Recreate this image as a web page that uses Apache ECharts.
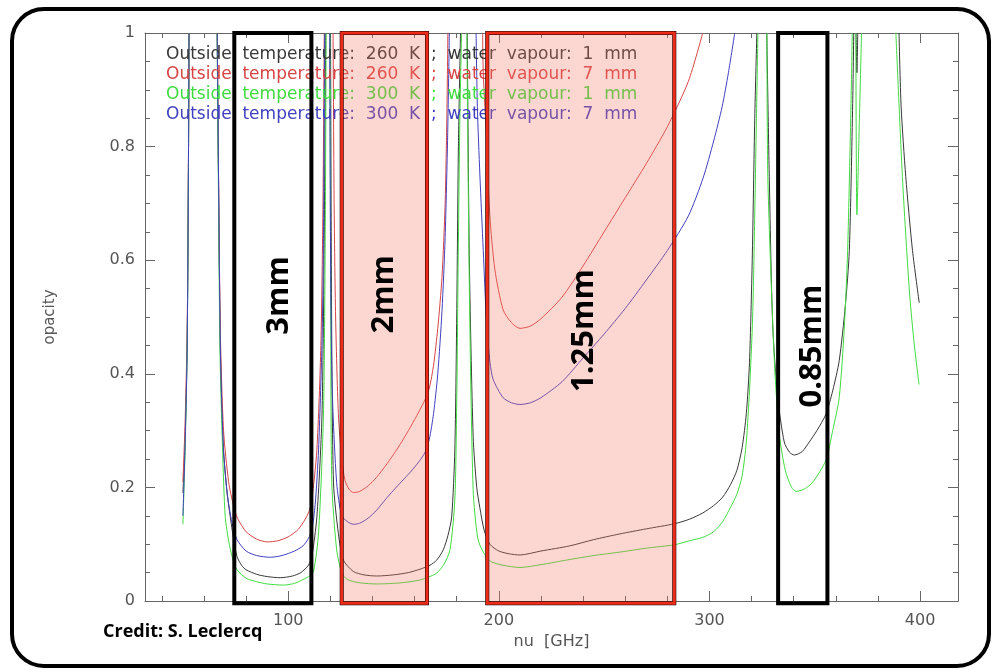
<!DOCTYPE html>
<html>
<head>
<meta charset="utf-8">
<script src="https://cdn.jsdelivr.net/npm/echarts@6.0.0/dist/echarts.min.js"></script>
<style>
html, body { margin: 0; padding: 0; background: #fff; }
#chart { width: 997px; height: 672px; }
</style>
</head>
<body>
<div id="chart"></div>
<script>
// legend texts, one per curve
const seriesNames = [
  'Outside  temperature:  260  K  ;  water  vapour:  1  mm',
  'Outside  temperature:  260  K  ;  water  vapour:  7  mm',
  'Outside  temperature:  300  K  ;  water  vapour:  1  mm',
  'Outside  temperature:  300  K  ;  water  vapour:  7  mm'
];

// [frequency GHz, opacity], null = curve leaves the plot (above 1)
const curve260k1mm = [
  [50,0.19],[51,0.28],[52,0.45],[52.6,0.75],[52.9,1.0], null,
  [66.3,1.0],[66.8,0.79],[67.8,0.44],[69.2,0.27],[71,0.19],[72.5,0.148],[74,0.11],[75.7,0.078],[78,0.062],[80,0.055],[85,0.047],[90,0.043],[96.2,0.041],[102,0.044],[106,0.05],[109.6,0.063],[111.2,0.078],[113.6,0.148],[116,0.324],[117,0.6],[117.8,1.0], null,
  [120.1,1.0],[120.6,0.5],[121.5,0.208],[123.8,0.119],[126.2,0.072],[130.9,0.052],[136,0.046],[142,0.044],[150,0.046],[157,0.05],[162.6,0.056],[167.3,0.063],[170.5,0.072],[173.6,0.09],[175.8,0.115],[177.6,0.148],[179.1,0.266],[180,0.5],[180.8,0.8],[181.8,1.0], null,
  [185,1.0],[186,0.6],[187.8,0.29],[189.5,0.2],[191,0.164],[193,0.125],[195.7,0.1],[200,0.088],[205,0.083],[210,0.081],[220,0.088],[233.6,0.097],[245,0.108],[257.3,0.118],[270,0.127],[283.4,0.136],[290.5,0.144],[296.8,0.155],[302,0.168],[306.3,0.183],[310,0.205],[313,0.23],[315.5,0.27],[317.5,0.33],[319,0.42],[320.3,0.6],[321.5,0.85],[322.5,1.0], null,
  [327.2,1.0],[328.4,0.747],[330,0.488],[332.4,0.358],[335.5,0.28],[338,0.262],[340.3,0.257],[344,0.263],[347.4,0.28],[351,0.3],[355.3,0.329],[358.5,0.37],[361.6,0.423],[364.5,0.52],[366.4,0.617],[368,0.876],[368.5,1.0], null,
  [369.6,1.0],[370,0.93],[370.4,1.0], null,
  [390,1.0],[391,0.87],[393.2,0.747],[396.4,0.617],[399.6,0.525]
];
const curve260k7mm = [
  [50,0.21],[51,0.31],[52,0.47],[52.6,0.75],[52.9,1.0], null,
  [66.3,1.0],[66.8,0.79],[67.8,0.47],[69.3,0.3],[71.7,0.21],[74,0.168],[76,0.145],[80,0.122],[85,0.109],[90,0.104],[95,0.106],[100,0.113],[105,0.127],[109.6,0.155],[111.2,0.178],[113.6,0.266],[115.5,0.45],[116.5,0.7],[117.1,1.0], null,
  [121.3,1.0],[121.8,0.7],[122.5,0.5],[123.8,0.33],[125.4,0.25],[127,0.212],[129,0.196],[131,0.191],[134,0.193],[138,0.203],[142,0.218],[146,0.237],[150,0.258],[154,0.281],[158,0.306],[162,0.333],[165,0.355],[167,0.375],[169,0.415],[171,0.48],[173,0.57],[174.5,0.7],[175.3,0.85],[175.8,1.0], null,
  [192.3,1.0],[192.6,0.93],[194.2,0.81],[195.7,0.68],[198.1,0.584],[202,0.513],[206,0.49],[210,0.48],[215,0.484],[220,0.497],[230,0.535],[240,0.59],[250,0.65],[260,0.71],[270,0.77],[280,0.835],[290,0.915],[296.8,1.0]
];
const curve300k1mm = [
  [50,0.135],[51,0.26],[52,0.44],[52.6,0.75],[52.9,1.0], null,
  [66.2,1.0],[66.7,0.79],[67.6,0.44],[68.8,0.27],[70.1,0.148],[72,0.1],[74,0.07],[75.7,0.055],[80,0.04],[85,0.034],[90,0.03],[97.8,0.028],[103,0.031],[106,0.036],[109.6,0.043],[112,0.052],[114.4,0.12],[116.7,0.324],[117.5,0.6],[118,1.0], null,
  [119.8,1.0],[120.2,0.5],[120.7,0.208],[123,0.09],[125.4,0.05],[128,0.038],[134,0.032],[142,0.03],[150,0.031],[156,0.033],[162.6,0.037],[166.5,0.042],[170.5,0.049],[174,0.065],[176.8,0.09],[179.1,0.178],[180,0.35],[180.7,0.6],[181.5,0.85],[182.3,1.0], null,
  [184.8,1.0],[186,0.55],[187.8,0.196],[190,0.11],[192.6,0.086],[196,0.07],[202,0.063],[210,0.059],[220,0.064],[233.6,0.073],[245,0.08],[257.3,0.086],[270,0.093],[283.4,0.099],[290.5,0.106],[296.8,0.112],[302,0.122],[306.3,0.14],[310,0.165],[313,0.188],[315.5,0.22],[317.5,0.28],[319,0.37],[320.5,0.5],[321.5,0.68],[322.3,0.85],[323,1.0], null,
  [327.3,1.0],[327.7,0.747],[330.8,0.423],[333.2,0.293],[336,0.23],[339,0.2],[341.1,0.193],[345,0.197],[349,0.209],[355.3,0.248],[358.5,0.3],[361.6,0.358],[364,0.48],[365.6,0.617],[367.2,0.876],[367.8,1.0], null,
  [369.5,1.0],[370,0.68],[371.2,0.85],[372.2,1.0], null,
  [388.5,1.0],[391.6,0.747],[394.8,0.552],[397,0.46],[399.5,0.381]
];
const curve300k7mm = [
  [50,0.15],[51,0.27],[52,0.44],[52.6,0.75],[52.9,1.0], null,
  [66.3,1.0],[66.8,0.79],[67.8,0.44],[69.2,0.27],[71,0.19],[73.3,0.138],[75.7,0.108],[80,0.088],[85,0.08],[91.5,0.077],[97,0.08],[103,0.088],[107,0.097],[109.6,0.11],[111.2,0.125],[112.8,0.17],[114.4,0.266],[116,0.45],[116.7,0.618],[117.3,1.0], null,
  [119.7,1.0],[120.2,0.55],[121,0.36],[123,0.208],[125.4,0.15],[128,0.14],[131,0.135],[134,0.137],[138,0.146],[142,0.16],[146,0.178],[150,0.195],[154,0.211],[158,0.227],[162,0.245],[165,0.262],[167,0.285],[169,0.33],[171,0.4],[173,0.51],[174.5,0.64],[175.7,0.82],[176.5,1.0], null,
  [189.2,1.0],[189.8,0.87],[191,0.75],[192.6,0.617],[194.2,0.488],[195.8,0.42],[197.3,0.39],[202,0.358],[206,0.349],[210,0.346],[215,0.349],[220,0.358],[230,0.386],[240,0.428],[250,0.47],[260,0.515],[270,0.565],[280,0.617],[290,0.678],[297,0.745],[302,0.81],[306,0.87],[309,0.93],[312,1.0]
];

// atmospheric windows (GHz) and where their names sit
const bandNames = ['3mm', '2mm', '1.25mm', '0.85mm'];
const bandStart = [74.4, 125.4, 194.5, 332.6];
const bandEnd = [111.0, 165.9, 283.3, 356.0];
const bandLabelFreq = [95.7, 145.5, 240.3, 348.8];
const bandLabelOpacity = [0.538, 0.54, 0.476, 0.449];

// axis ticks
const xMajorTicks = [100, 200, 300, 400];
const xMinorTicks = [40, 60, 80, 120, 140, 160, 180, 220, 240, 260, 280, 320, 340, 360, 380];

const lineColors = ['#383838', '#d84444', '#3fdc3f', '#4040c0'];
const filledBands = { '2mm': true, '1.25mm': true };

function toSeriesData(points) {
  let out = [];
  let lastX = 0;
  points.forEach(function (p) {
    if (p === null) {
      out.push([lastX, null]);
    } else {
      out.push(p);
      lastX = p[0];
    }
  });
  return out;
}

const chart = echarts.init(document.getElementById('chart'));

const axisGray = '#666';
const textGray = '#555';
const tickFont = 'DejaVu Sans';

function xAxisPart(position, ticks, len, withLine, withLabel) {
  return {
    type: 'value',
    position: position,
    min: 32,
    max: 418,
    axisLine: { show: withLine, onZero: false, lineStyle: { color: axisGray, width: 1 } },
    axisTick: { show: true, inside: true, length: len, customValues: ticks, lineStyle: { color: axisGray } },
    axisLabel: withLabel ? { show: true, customValues: xMajorTicks, color: textGray, fontSize: 16, fontFamily: tickFont, margin: 12 } : { show: false },
    splitLine: { show: false }
  };
}

let xAxes = [
  xAxisPart('bottom', xMajorTicks, 10, true, true),
  xAxisPart('bottom', xMinorTicks, 5, false, false),
  xAxisPart('top', xMajorTicks, 10, true, false),
  xAxisPart('top', xMinorTicks, 5, false, false)
];
xAxes[0].name = 'nu  [GHz]';
xAxes[0].nameLocation = 'middle';
xAxes[0].nameGap = 31;
xAxes[0].nameTextStyle = { color: textGray, fontSize: 16, fontFamily: tickFont };

function yAxisPart(position, withLabel) {
  return {
    type: 'value',
    position: position,
    min: 0,
    max: 1,
    interval: 0.2,
    axisLine: { show: true, onZero: false, lineStyle: { color: axisGray, width: 1 } },
    axisTick: { show: true, inside: true, length: 10, lineStyle: { color: axisGray } },
    minorTick: { show: true, splitNumber: 4, length: 5, lineStyle: { color: axisGray } },
    axisLabel: withLabel ? { show: true, color: textGray, fontSize: 16, fontFamily: tickFont, margin: 10 } : { show: false },
    splitLine: { show: false },
    minorSplitLine: { show: false }
  };
}

let yAxes = [yAxisPart('left', true), yAxisPart('right', false)];
yAxes[0].name = 'opacity';
yAxes[0].nameLocation = 'middle';
yAxes[0].nameGap = 87;
yAxes[0].nameTextStyle = { color: textGray, fontSize: 15, fontFamily: tickFont };

const curves = [curve260k1mm, curve260k7mm, curve300k1mm, curve300k7mm];

let series = curves.map(function (c, i) {
  return {
    name: seriesNames[i],
    type: 'line',
    xAxisIndex: 0,
    yAxisIndex: 0,
    data: toSeriesData(c),
    showSymbol: false,
    smooth: 0.25,
    connectNulls: false,
    clip: true,
    z: 2,
    lineStyle: { color: lineColors[i], width: 1 },
    itemStyle: { color: lineColors[i] }
  };
});

// window boxes drawn over the curves
series.push({
  type: 'custom',
  xAxisIndex: 0,
  yAxisIndex: 0,
  z: 10,
  clip: false,
  silent: true,
  encode: { x: [0, 1, 2], y: 3 },
  data: bandStart.map(function (s, i) {
    return [s, bandEnd[i], bandLabelFreq[i], bandLabelOpacity[i]];
  }),
  renderItem: function (params, api) {
    const name = bandNames[params.dataIndex];
    const p0 = api.coord([api.value(0), 1]);
    const p1 = api.coord([api.value(1), -0.004]);
    const lp = api.coord([api.value(2), api.value(3)]);
    const w = p1[0] - p0[0];
    const h = p1[1] - p0[1];
    const filled = !!filledBands[name];
    let children = [];
    if (filled) {
      children.push({
        type: 'rect',
        shape: { x: p0[0], y: p0[1], width: w, height: h },
        style: { fill: 'rgba(245,122,105,0.3)', stroke: null }
      });
      children.push({
        type: 'rect',
        shape: { x: p0[0], y: p0[1], width: w, height: h },
        style: { fill: null, stroke: '#000', lineWidth: 4 }
      });
      children.push({
        type: 'rect',
        shape: { x: p0[0], y: p0[1], width: w, height: h },
        style: { fill: null, stroke: '#ee2a18', lineWidth: 3 }
      });
    } else {
      children.push({
        type: 'rect',
        shape: { x: p0[0], y: p0[1], width: w, height: h },
        style: { fill: null, stroke: '#000', lineWidth: 4 }
      });
    }
    children.push({
      type: 'text',
      x: lp[0],
      y: lp[1],
      rotation: Math.PI / 2,
      style: {
        text: name,
        fill: '#000',
        font: 'bold 31px "Open Sans", sans-serif',
        align: 'center',
        verticalAlign: 'middle',
        textAlign: 'center',
        textVerticalAlign: 'middle'
      }
    });
    return { type: 'group', children: children };
  }
});

chart.setOption({
  animation: false,
  backgroundColor: '#fff',
  grid: { left: 145, right: 39, top: 33, bottom: 71, containLabel: false, outerBoundsMode: 'none' },
  legend: {
    show: true,
    orient: 'vertical',
    left: 161,
    top: 46,
    padding: 0,
    itemWidth: 0,
    itemHeight: 0,
    itemGap: 3,
    selectedMode: false,
    z: 3,
    data: seriesNames.map(function (n, i) {
      return { name: n, icon: 'rect', textStyle: { color: lineColors[i] } };
    }),
    textStyle: { fontSize: 17, fontFamily: tickFont, lineHeight: 17 }
  },
  xAxis: xAxes,
  yAxis: yAxes,
  series: series,
  graphic: [
    {
      type: 'rect',
      shape: { x: 12, y: 9, width: 977, height: 657, r: 32 },
      style: { fill: null, stroke: '#000', lineWidth: 4 },
      z: 20
    },
    {
      type: 'text',
      left: 103,
      top: 623,
      style: { text: 'Credit: S. Leclercq', fill: '#000', font: 'bold 18px "Open Sans", sans-serif' },
      z: 20
    }
  ]
});
</script>
</body>
</html>
